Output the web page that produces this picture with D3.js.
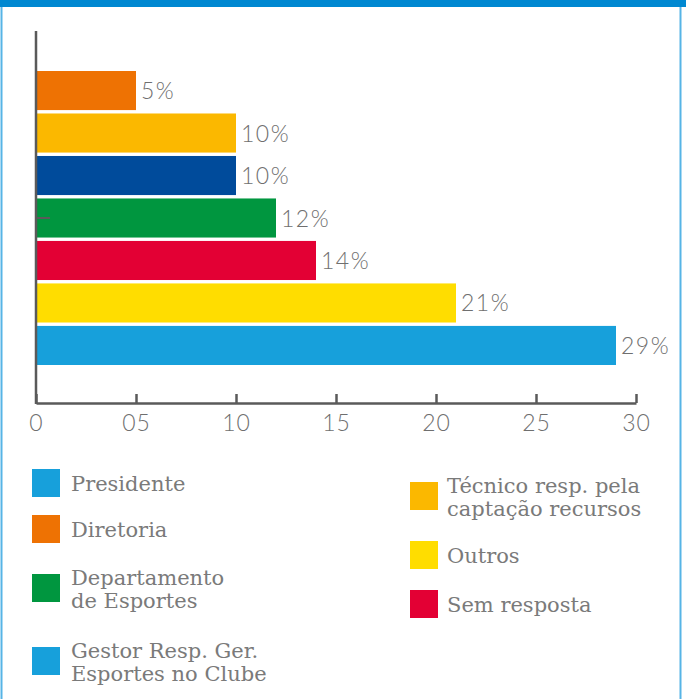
<!DOCTYPE html>
<html>
<head>
<meta charset="utf-8">
<script src="https://cdn.jsdelivr.net/npm/d3@7"></script>
<style>
  body { margin: 0; background: #fff; }
  svg { display: block; }
</style>
</head>
<body>
<div id="chart"></div>
<script>
let w = 686;
let h = 699;

// bars, top to bottom
let categories = ["Diretoria", "Técnico resp. pela captação recursos", "Gestor Resp. Ger. Esportes no Clube",
  "Departamento de Esportes", "Sem resposta", "Outros", "Presidente"];
let values = [5, 10, 10, 12, 14, 21, 29];
let barColors = ["#ee7203", "#fbb800", "#004b9b", "#00963f", "#e30034", "#ffdd00", "#17a0db"];
let tickValues = [0, 5, 10, 15, 20, 25, 30];
let tickLabels = ["0", "05", "10", "15", "20", "25", "30"];

// legend
let legendLeft = [["Presidente"], ["Diretoria"], ["Departamento", "de Esportes"], ["Gestor Resp. Ger.", "Esportes no Clube"]];
let legendLeftColors = ["#17a0db", "#ee7203", "#00963f", "#17a0db"];
let legendRight = [["Técnico resp. pela", "captação recursos"], ["Outros"], ["Sem resposta"]];
let legendRightColors = ["#fbb800", "#ffdd00", "#e30034"];

let textColor = "#6f6f6f";
let axisColor = "#5a5a5a";
let numFont = "Lato, 'Open Sans', sans-serif";
let legendFont = "'DejaVu Serif', serif";

let viz = d3.select("#chart")
  .append("svg")
  .attr("width", w)
  .attr("height", h);

// frame
viz.append("rect").attr("x", 0).attr("y", 0).attr("width", w).attr("height", 7).attr("fill", "#0088d1");
viz.append("line").attr("x1", 1.5).attr("x2", 1.5).attr("y1", 7).attr("y2", h)
  .attr("stroke", "#56b4e6").attr("stroke-width", 2);
viz.append("line").attr("x1", 680.5).attr("x2", 680.5).attr("y1", 7).attr("y2", h)
  .attr("stroke", "#56b4e6").attr("stroke-width", 2);

// scales
let xScale = d3.scaleLinear().domain([0, 30]).range([36, 636]);
let yScale = d3.scaleBand().domain(categories).range([71, 365]).paddingInner(0.08).paddingOuter(0);

// bars
viz.selectAll(".bar").data(values).enter()
  .append("rect")
  .attr("class", "bar")
  .attr("x", xScale(0))
  .attr("y", (d, i) => yScale(categories[i]))
  .attr("width", d => xScale(d) - xScale(0))
  .attr("height", yScale.bandwidth())
  .attr("fill", (d, i) => barColors[i]);

// value labels
viz.selectAll(".val").data(values).enter()
  .append("text")
  .attr("class", "val")
  .attr("x", d => xScale(d) + 5)
  .attr("y", (d, i) => yScale(categories[i]) + yScale.bandwidth() / 2 + 8.5)
  .attr("font-family", numFont)
  .attr("font-weight", 300)
  .attr("font-size", 23)
  .attr("letter-spacing", 1.5)
  .attr("fill", textColor)
  .text(d => d + "%");

// y axis line with the single middle tick
viz.append("line").attr("x1", 36).attr("x2", 36).attr("y1", 31).attr("y2", 404)
  .attr("stroke", axisColor).attr("stroke-width", 2.5);
let yAxis = d3.axisRight(yScale).tickValues([categories[3]]).tickSize(14).tickFormat("");
let yAxisGroup = viz.append("g").attr("transform", "translate(36,0)").call(yAxis);
yAxisGroup.select(".domain").remove();
yAxisGroup.selectAll("line").attr("stroke", axisColor).attr("stroke-width", 2);

// x axis
let xAxis = d3.axisBottom(xScale).tickValues(tickValues).tickSize(-9)
  .tickFormat((d, i) => tickLabels[i]).tickSizeOuter(0);
let xAxisGroup = viz.append("g").attr("transform", "translate(0,403)").call(xAxis);
xAxisGroup.select(".domain").attr("stroke", axisColor).attr("stroke-width", 2.5);
xAxisGroup.selectAll(".tick line").attr("stroke", axisColor).attr("stroke-width", 2.5);
xAxisGroup.selectAll(".tick text")
  .attr("y", 28).attr("dy", 0)
  .attr("font-family", numFont)
  .attr("font-weight", 300)
  .attr("font-size", 23)
  .attr("letter-spacing", 1)
  .attr("fill", textColor);

// legend
function drawLegend(items, colors, x, squareYs, textX) {
  let g = viz.append("g");
  items.forEach((lines, i) => {
    let sy = squareYs[i];
    g.append("rect").attr("x", x).attr("y", sy).attr("width", 28).attr("height", 28).attr("fill", colors[i]);
    let mid = sy + 14;
    let firstBase = lines.length === 1 ? mid + 8 : mid - 3.5;
    let t = g.append("text")
      .attr("font-family", legendFont)
      .attr("font-weight", 200)
      .attr("font-size", 21)
      .attr("fill", "#7a7a7a");
    lines.forEach((ln, j) => {
      t.append("tspan").attr("x", textX).attr("y", firstBase + j * 23).text(ln);
    });
  });
}
drawLegend(legendLeft, legendLeftColors, 32, [469, 515, 574, 647], 71);
drawLegend(legendRight, legendRightColors, 410, [482, 541, 590], 447);
</script>
</body>
</html>
